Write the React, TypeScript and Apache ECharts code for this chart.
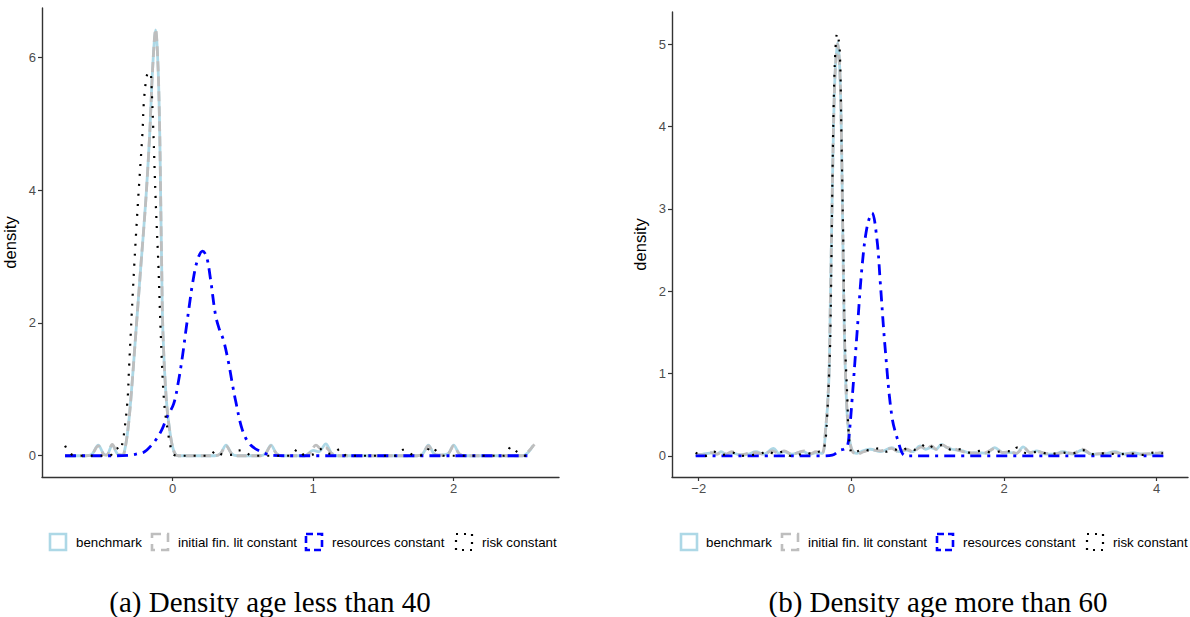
import React, { useEffect, useRef } from "react";
import * as echarts from "echarts";

const seriesNames = ["benchmark", "initial fin. lit constant", "resources constant", "risk constant"];
const leftXTicks = [0, 1, 2];
const leftYTicks = [0, 2, 4, 6];
const rightXTicks = [-2, 0, 2, 4];
const rightYTicks = [0, 1, 2, 3, 4, 5];
const captions = ["(a) Density age less than 40", "(b) Density age more than 60"];
const yTitle = "density";

// Panel (a): age less than 40
const benchA: [number, number][] = [
  [-0.766, 0], [-0.62, 0], [-0.575, 0.02], [-0.53, 0.16], [-0.49, 0.02], [-0.47, 0.01], [-0.43, 0.16], [-0.39, 0.02],
  [-0.36, 0.01], [-0.348, 0.02], [-0.321, 0.35], [-0.298, 0.84], [-0.262, 1.85], [-0.227, 2.84], [-0.191, 3.85],
  [-0.163, 4.86], [-0.142, 5.85], [-0.121, 6.41], [-0.104, 5.85], [-0.092, 4.86], [-0.085, 3.85], [-0.078, 2.84],
  [-0.069, 1.85], [-0.045, 0.84], [-0.019, 0.35], [0.01, 0.06], [0.04, 0], [0.3, 0], [0.34, 0.03], [0.38, 0.16],
  [0.42, 0.03], [0.46, 0], [0.62, 0], [0.66, 0.03], [0.7, 0.16], [0.74, 0.03], [0.78, 0], [0.94, 0], [1.0, 0.08],
  [1.04, 0.06], [1.09, 0.18], [1.13, 0.04], [1.17, 0], [1.74, 0], [1.78, 0.03], [1.82, 0.16], [1.86, 0.03],
  [1.89, 0.01], [1.96, 0.03], [2.0, 0.16], [2.04, 0.03], [2.08, 0], [2.49, 0], [2.53, 0.05], [2.565, 0.15],
];
const initA: [number, number][] = [
  [-0.766, 0], [-0.62, 0], [-0.575, 0.02], [-0.53, 0.15], [-0.49, 0.02], [-0.47, 0.01], [-0.43, 0.17], [-0.39, 0.02],
  [-0.36, 0.01], [-0.348, 0.02], [-0.321, 0.35], [-0.298, 0.84], [-0.262, 1.85], [-0.227, 2.84], [-0.191, 3.85],
  [-0.163, 4.86], [-0.142, 5.85], [-0.121, 6.42], [-0.104, 5.85], [-0.092, 4.86], [-0.085, 3.85], [-0.078, 2.84],
  [-0.069, 1.85], [-0.045, 0.84], [-0.019, 0.35], [0.01, 0.06], [0.04, 0], [0.3, 0], [0.34, 0.03], [0.38, 0.15],
  [0.42, 0.03], [0.46, 0], [0.62, 0], [0.66, 0.03], [0.7, 0.15], [0.74, 0.03], [0.78, 0], [0.94, 0], [0.98, 0.05],
  [1.02, 0.16], [1.06, 0.1], [1.09, 0.12], [1.13, 0.04], [1.17, 0], [1.74, 0], [1.78, 0.03], [1.82, 0.15],
  [1.86, 0.03], [1.89, 0.01], [1.96, 0.03], [2.0, 0.15], [2.04, 0.03], [2.08, 0], [2.49, 0], [2.53, 0.06], [2.575, 0.17],
];
const resA: [number, number][] = [
  [-0.766, 0], [-0.4, 0], [-0.3, 0.01], [-0.25, 0.03], [-0.2, 0.06], [-0.15, 0.16], [-0.113, 0.26], [-0.075, 0.4],
  [-0.043, 0.57], [0.007, 0.78], [0.043, 1.14], [0.07, 1.5], [0.092, 1.85], [0.118, 2.25], [0.142, 2.6], [0.177, 2.95],
  [0.213, 3.08], [0.241, 3.0], [0.27, 2.65], [0.305, 2.12], [0.333, 1.9], [0.362, 1.74], [0.397, 1.41], [0.426, 1.07],
  [0.447, 0.84], [0.496, 0.39], [0.553, 0.165], [0.645, 0.045], [0.716, 0.005], [0.8, 0], [2.54, 0],
];
const riskA: [number, number][] = [
  [-0.766, 0.15], [-0.74, 0.06], [-0.72, 0.02], [-0.68, 0], [-0.45, 0], [-0.42, 0.06], [-0.4, 0.12], [-0.375, 0.08],
  [-0.357, 0.195], [-0.345, 0.35], [-0.321, 0.84], [-0.31, 1.34], [-0.298, 1.85], [-0.274, 2.84], [-0.246, 3.85],
  [-0.215, 4.86], [-0.204, 5.35], [-0.184, 5.72], [-0.168, 5.78], [-0.156, 5.74], [-0.151, 5.6], [-0.137, 4.86],
  [-0.121, 3.85], [-0.101, 2.84], [-0.085, 1.85], [-0.062, 0.84], [-0.033, 0.35], [-0.002, 0.045], [0.03, 0],
  [0.26, 0], [0.31, 0.08], [0.36, 0.01], [0.43, 0.02], [0.47, 0.08], [0.52, 0.06], [0.56, 0], [0.84, 0], [0.89, 0.1],
  [0.94, 0.01], [1.0, 0.02], [1.05, 0.1], [1.1, 0.03], [1.15, 0.04], [1.19, 0.1], [1.24, 0], [1.58, 0], [1.64, 0.09],
  [1.67, 0.08], [1.72, 0], [1.79, 0.02], [1.84, 0.14], [1.89, 0.04], [1.93, 0], [2.36, 0], [2.41, 0.14], [2.45, 0.06],
  [2.49, 0], [2.53, 0],
];

// Panel (b): age more than 60
const benchB: [number, number][] = [
  [-2.04, 0.01], [-1.95, 0.02], [-1.82, 0.035], [-1.76, 0.02], [-1.71, 0.05], [-1.64, 0.02], [-1.58, 0.04],
  [-1.45, 0.01], [-1.35, 0.02], [-1.25, 0.05], [-1.15, 0.02], [-1.02, 0.09], [-0.95, 0.03], [-0.89, 0.05],
  [-0.78, 0.02], [-0.63, 0.05], [-0.55, 0.02], [-0.45, 0.04], [-0.383, 0.03], [-0.34, 0.28], [-0.297, 0.88],
  [-0.275, 1.89], [-0.252, 3.1], [-0.231, 4.11], [-0.209, 4.72], [-0.179, 5.02], [-0.153, 4.72], [-0.131, 3.92],
  [-0.113, 2.7], [-0.092, 1.49], [-0.065, 0.68], [-0.035, 0.28], [0.009, 0.07], [0.074, 0.03], [0.15, 0.06],
  [0.25, 0.08], [0.38, 0.05], [0.53, 0.1], [0.62, 0.05], [0.72, 0.07], [0.8, 0.05], [0.9, 0.12], [0.97, 0.08],
  [1.04, 0.1], [1.11, 0.08], [1.18, 0.14], [1.25, 0.1], [1.32, 0.08], [1.46, 0.06], [1.56, 0.03], [1.65, 0.04],
  [1.76, 0.03], [1.88, 0.1], [1.98, 0.04], [2.07, 0.04], [2.16, 0.03], [2.25, 0.11], [2.34, 0.04], [2.43, 0.06],
  [2.55, 0.02], [2.65, 0.02], [2.77, 0.05], [2.9, 0.02], [3.02, 0.07], [3.15, 0.02], [3.3, 0.02], [3.45, 0.05],
  [3.57, 0.02], [3.69, 0.04], [3.8, 0.02], [3.95, 0.02], [4.08, 0.05],
];
const initB: [number, number][] = [
  [-2.04, 0.02], [-1.95, 0.01], [-1.84, 0.04], [-1.76, 0.02], [-1.7, 0.045], [-1.64, 0.02], [-1.57, 0.05],
  [-1.45, 0.01], [-1.35, 0.03], [-1.26, 0.04], [-1.15, 0.02], [-1.04, 0.06], [-0.95, 0.03], [-0.88, 0.06],
  [-0.78, 0.02], [-0.62, 0.06], [-0.55, 0.02], [-0.46, 0.05], [-0.385, 0.03], [-0.34, 0.3], [-0.297, 0.9],
  [-0.275, 1.9], [-0.252, 3.1], [-0.231, 4.12], [-0.209, 4.72], [-0.18, 5.0], [-0.153, 4.72], [-0.131, 3.92],
  [-0.112, 2.7], [-0.091, 1.49], [-0.064, 0.68], [-0.034, 0.28], [0.01, 0.06], [0.074, 0.02], [0.16, 0.05],
  [0.26, 0.07], [0.38, 0.06], [0.52, 0.09], [0.62, 0.05], [0.73, 0.08], [0.8, 0.05], [0.92, 0.11], [0.98, 0.08],
  [1.05, 0.12], [1.11, 0.08], [1.2, 0.13], [1.26, 0.1], [1.33, 0.09], [1.46, 0.05], [1.56, 0.04], [1.66, 0.03],
  [1.76, 0.04], [1.89, 0.09], [1.98, 0.04], [2.08, 0.05], [2.16, 0.03], [2.26, 0.1], [2.34, 0.04], [2.44, 0.05],
  [2.55, 0.03], [2.66, 0.02], [2.78, 0.04], [2.9, 0.03], [3.03, 0.08], [3.15, 0.02], [3.3, 0.03], [3.46, 0.04],
  [3.57, 0.02], [3.7, 0.03], [3.8, 0.02], [3.96, 0.03], [4.09, 0.04],
];
const resB: [number, number][] = [
  [-2.04, 0], [-1.0, 0], [-0.4, 0], [-0.25, 0.01], [-0.144, 0.07], [-0.1, 0.08], [-0.056, 0.11], [-0.03, 0.25],
  [0.009, 0.68], [0.074, 1.49], [0.14, 2.3], [0.205, 2.78], [0.27, 2.95], [0.336, 2.62], [0.379, 2.1], [0.444, 1.29],
  [0.532, 0.47], [0.618, 0.16], [0.684, 0.01], [0.75, 0], [4.1, 0],
];
const riskB: [number, number][] = [
  [-2.04, 0.04], [-1.98, 0.01], [-1.9, 0.0], [-1.8, 0.05], [-1.7, 0.01], [-1.56, 0.04], [-1.45, 0.0], [-1.3, 0.01],
  [-1.2, 0.02], [-1.1, 0.06], [-1.0, 0.02], [-0.9, 0.05], [-0.8, 0.0], [-0.7, 0.01], [-0.6, 0.04], [-0.5, 0.02],
  [-0.42, 0.05], [-0.383, 0.05], [-0.34, 0.19], [-0.318, 0.47], [-0.297, 0.88], [-0.275, 1.49], [-0.252, 3.1],
  [-0.231, 4.32], [-0.209, 4.93], [-0.187, 5.13], [-0.153, 4.93], [-0.131, 3.92], [-0.108, 2.7], [-0.087, 1.49],
  [-0.052, 0.68], [-0.035, 0.28], [0.01, 0.03], [0.07, 0.05], [0.15, 0.08], [0.25, 0.06], [0.35, 0.09], [0.45, 0.05],
  [0.55, 0.08], [0.65, 0.06], [0.75, 0.1], [0.85, 0.07], [0.99, 0.15], [1.08, 0.1], [1.18, 0.13], [1.32, 0.07],
  [1.42, 0.08], [1.55, 0.04], [1.7, 0.06], [1.85, 0.04], [2.0, 0.06], [2.12, 0.05], [2.17, 0.1], [2.3, 0.03],
  [2.45, 0.05], [2.6, 0.02], [2.75, 0.04], [2.9, 0.03], [3.03, 0.07], [3.15, 0.02], [3.3, 0.03], [3.5, 0.02],
  [3.65, 0.03], [3.8, 0.01], [3.97, 0.04], [4.08, 0.03],
];

const panelA = [benchA, initA, resA, riskA];
const panelB = [benchB, initB, resB, riskB];

const lineStyles = [
  { color: "#ADD8E6", width: 2.8, type: "solid" as any },
  { color: "#BEBEBE", width: 2.8, type: [10, 5] as any },
  { color: "#0000FF", width: 2.8, type: [11, 6, 3, 6] as any },
  { color: "#000000", width: 2.2, type: [2, 8] as any },
];
const keyDash: any[] = [null, [9, 6], [7, 4], [2, 6]];

const FONT = "Liberation Sans";

function fmt(v: number) {
  return v < 0 ? "\u2212" + Math.abs(v) : String(v);
}

function xAxis(gridIndex: number, min: number, max: number, ticks: number[]) {
  return {
    type: "value",
    gridIndex,
    min,
    max,
    axisLine: { show: true, onZero: false, lineStyle: { color: "#333333", width: 1.4 } },
    axisTick: { show: true, length: 4, customValues: ticks, lineStyle: { color: "#333333", width: 1.2 } },
    axisLabel: { customValues: ticks, color: "#4D4D4D", fontSize: 13, fontFamily: FONT, margin: 5, formatter: fmt },
    splitLine: { show: false },
  };
}
function yAxis(gridIndex: number, min: number, max: number, ticks: number[]) {
  return {
    type: "value",
    gridIndex,
    min,
    max,
    name: yTitle,
    nameLocation: "middle",
    nameGap: 24,
    nameRotate: 90,
    nameTextStyle: { color: "#000000", fontSize: 16.5, fontFamily: FONT },
    axisLine: { show: true, onZero: false, lineStyle: { color: "#333333", width: 1.4 } },
    axisTick: { show: true, length: 4, customValues: ticks, lineStyle: { color: "#333333", width: 1.2 } },
    axisLabel: { customValues: ticks, color: "#4D4D4D", fontSize: 13, fontFamily: FONT, margin: 6, formatter: fmt },
    splitLine: { show: false },
  };
}

function legendGraphics(boxXs: number[], textXs: number[]) {
  const els: any[] = [];
  seriesNames.forEach((name, i) => {
    els.push({
      type: "rect",
      shape: { x: boxXs[i], y: 534, width: 16, height: 16 },
      style: {
        fill: "none",
        stroke: lineStyles[i].color,
        lineWidth: i === 3 ? 2.2 : 2.6,
        lineDash: keyDash[i],
      },
    });
    els.push({
      type: "text",
      x: textXs[i],
      y: 542,
      style: { text: name, fontSize: 13.3, fontFamily: FONT, fill: "#000000", verticalAlign: "middle", align: "left" },
    });
  });
  return els;
}

export default function App() {
  const ref = useRef<HTMLDivElement>(null);
  useEffect(() => {
    if (!ref.current) return;
    const chart = echarts.init(ref.current, null, { renderer: "svg" });
    const series: any[] = [];
    [panelA, panelB].forEach((panel, p) => {
      panel.forEach((data, i) => {
        series.push({
          type: "line",
          name: seriesNames[i],
          xAxisIndex: p,
          yAxisIndex: p,
          data,
          showSymbol: false,
          symbol: "none",
          smooth: 0.35,
          lineStyle: lineStyles[i],
          z: 2 + i,
        });
      });
    });
    chart.setOption({
      animation: false,
      backgroundColor: "#ffffff",
      grid: [
        { left: 40, top: 8, width: 519, height: 469 },
        { left: 672, top: 12, width: 516, height: 465 },
      ],
      xAxis: [xAxis(0, -0.93, 2.75, leftXTicks), xAxis(1, -2.35, 4.41, rightXTicks)],
      yAxis: [yAxis(0, -0.32, 6.74, leftYTicks), yAxis(1, -0.257, 5.39, rightYTicks)],
      series,
      graphic: [
        ...legendGraphics([50, 152, 306, 456], [76, 178, 332, 482]),
        ...legendGraphics([681, 782, 937, 1087], [706, 808, 963, 1113]),
        {
          type: "text",
          x: 270,
          y: 602,
          style: { text: captions[0], fontSize: 29, fontFamily: "Liberation Serif", fill: "#000000", align: "center", verticalAlign: "middle" },
        },
        {
          type: "text",
          x: 938,
          y: 602,
          style: { text: captions[1], fontSize: 29, fontFamily: "Liberation Serif", fill: "#000000", align: "center", verticalAlign: "middle" },
        },
      ],
    });
    return () => chart.dispose();
  }, []);
  return <div ref={ref} style={{ position: "fixed", left: 0, top: 0, width: 1190, height: 617, background: "#fff" }} />;
}
